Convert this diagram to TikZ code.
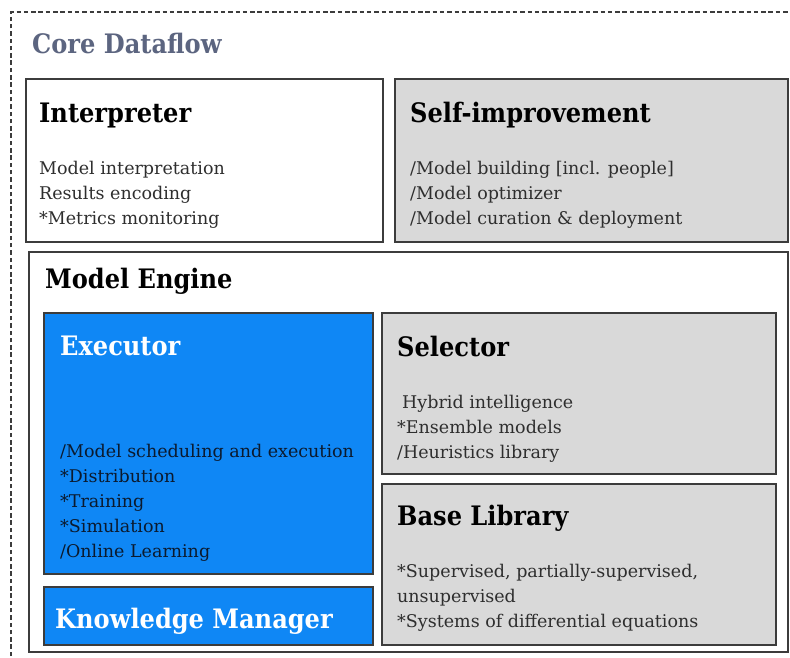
\documentclass[tikz,border=0pt]{standalone}
\usepackage{fontspec}
\setmainfont{DejaVu Serif}
\newfontfamily\titlefont{DejaVu Serif Condensed}
\definecolor{boxline}{HTML}{3C3C3C}
\definecolor{boxgray}{HTML}{D9D9D9}
\definecolor{exblue}{HTML}{0F87F5}
\definecolor{coretxt}{HTML}{5C6580}
\definecolor{bodytxt}{HTML}{2E2E2E}
\definecolor{extxt}{HTML}{0B1A2E}
\tikzset{
  panel/.style={draw=boxline, line width=1.4pt},
  whitepanel/.style={panel, fill=white},
  graypanel/.style={panel, fill=boxgray},
  bluepanel/.style={panel, fill=exblue},
  ttl/.style={anchor=base west, inner sep=0pt, font=\titlefont\bfseries\fontsize{26.8}{30}\selectfont},
  bodytext/.style={anchor=base west, inner sep=0pt, align=left, font=\fontsize{17.5}{25}\selectfont, text=bodytxt},
}
\begin{document}
\begin{tikzpicture}[x=1pt,y=-1pt]
\useasboundingbox (0,0) rectangle (790,657);
\fill[white] (0,0) rectangle (790,657);
% outer dashed frame
\draw[draw=boxline, line width=1.3pt, dash pattern=on 4.5pt off 2.8pt] (11,700) -- (11,12) -- (800,12);
\node[anchor=base west, inner sep=0pt, text=coretxt, font=\titlefont\bfseries\fontsize{26.8}{30}\selectfont] (core) at (32,53) {Core Dataflow};

% Interpreter
\draw[whitepanel] (26,79) rectangle (383,242);
\node[ttl] (interp) at (39,122) {Interpreter};
\node[bodytext] (interpb) at (39,224) {Model interpretation\\Results encoding\\*Metrics monitoring};

% Self-improvement
\draw[graypanel] (395,79) rectangle (788,242);
\node[ttl] (selfimp) at (410,122) {Self-improvement};
\node[bodytext] (selfb) at (410,224) {/Model building [incl. people]\\/Model optimizer\\/Model curation \& deployment};

% Model Engine
\draw[whitepanel] (29,252) rectangle (788,652);
\node[ttl] (engine) at (45,288) {Model Engine};

% Executor
\draw[bluepanel] (44,313) rectangle (373,574);
\node[ttl, text=white] (exec) at (60,355) {Executor};
\node[bodytext, text=extxt] (execb) at (60,557) {/Model scheduling and execution\\*Distribution\\*Training\\*Simulation\\/Online Learning};

% Knowledge Manager
\draw[bluepanel] (44,587) rectangle (373,645);
\node[ttl, text=white] (km) at (55,628) {Knowledge Manager};

% Selector
\draw[graypanel] (382,313) rectangle (776,474);
\node[ttl] (sel) at (397,356) {Selector};
\node[bodytext] (selb) at (397,458) {\hspace{5pt}Hybrid intelligence\\*Ensemble models\\/Heuristics library};

% Base Library
\draw[graypanel] (382,484) rectangle (776,645);
\node[ttl] (base) at (397,525) {Base Library};
\node[bodytext] (baseb) at (397,627) {*Supervised, partially-supervised,\\unsupervised\\*Systems of differential equations};
\end{tikzpicture}
\end{document}
